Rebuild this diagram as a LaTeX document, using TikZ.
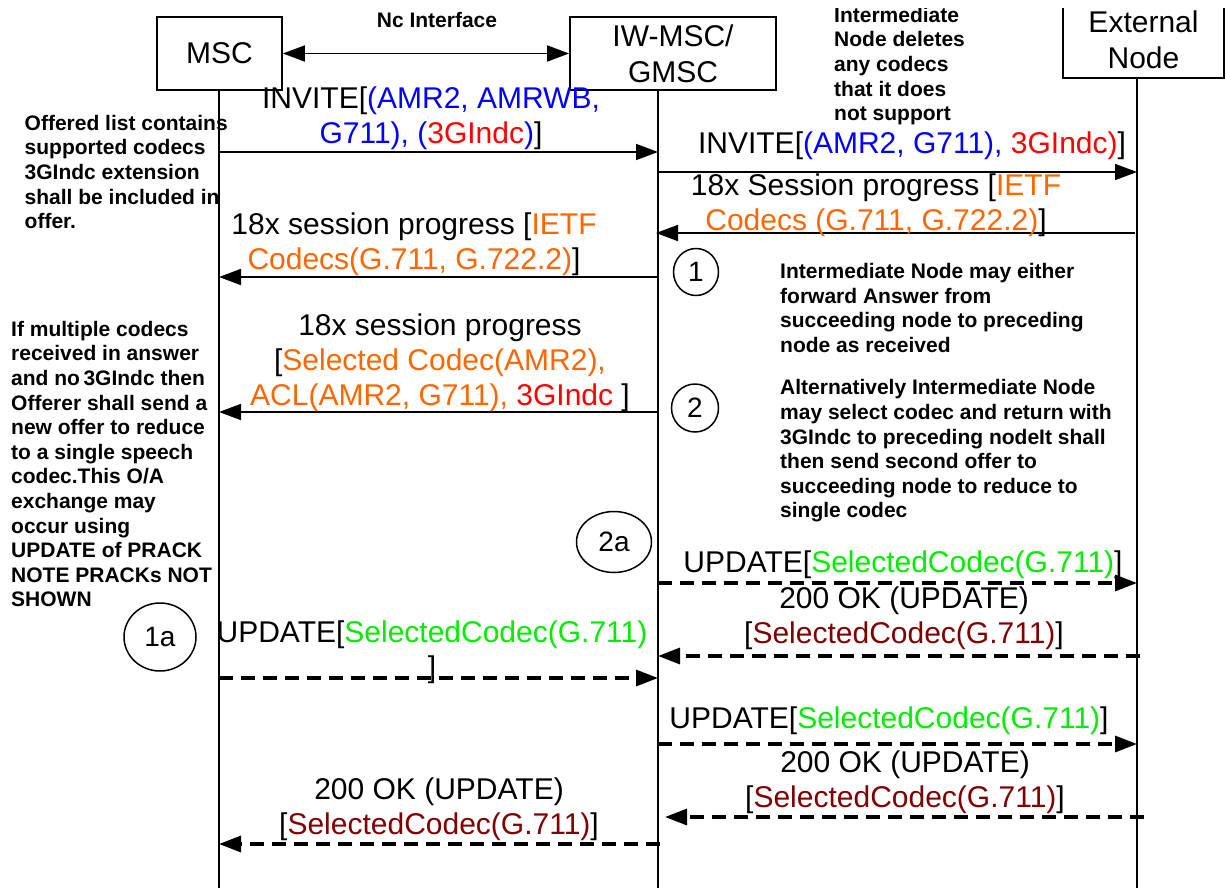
\documentclass[tikz,border=0pt]{standalone}
\usepackage{fontspec}
\setmainfont{Liberation Sans}
\usepackage{xcolor}
\usetikzlibrary{arrows.meta, shapes.geometric}
\definecolor{offerblue}{RGB}{0,0,255}
\definecolor{indcred}{RGB}{255,0,0}
\definecolor{ietforange}{RGB}{255,102,0}
\definecolor{selgreen}{RGB}{0,236,0}
\definecolor{okred}{RGB}{128,0,0}

\begin{document}
\begin{tikzpicture}[x=1pt, y=-1pt,
		entity/.style={draw, line width=1.8pt, inner sep=0pt, align=center, font=\fontsize{30}{36}\selectfont},
		life/.style={line width=1.7pt},
		msg/.style={inner sep=0pt, align=center, font=\fontsize{30}{35}\selectfont},
		note/.style={inner sep=0pt, align=left, anchor=west, font=\bfseries\fontsize{21}{24.6}\selectfont},
		num/.style={draw, ellipse, line width=1.5pt, inner sep=0pt, font=\fontsize{28}{30}\selectfont},
		solidmsg/.style={line width=1.8pt, -{Triangle[length=22pt,width=16pt]}},
		dashmsg/.style={line width=3.2pt, dash pattern=on 14pt off 8pt, -{Triangle[length=22pt,width=16pt]}}]
			\def\xm{219}
			\def\xi{658}
			\def\xe{1137}

			\useasboundingbox (0,0) rectangle (1225,888);
			\clip (0,9) rectangle (1225,888);

			% entities
			\node[entity, minimum width=125pt, minimum height=73pt] (msc) at (219.5,53.5) {MSC};
			\node[entity, minimum width=206pt, minimum height=73pt] (iw) at (673,53.5) {IW-MSC/\\GMSC};
			\node[entity, minimum width=161pt, minimum height=76pt] (ext) at (1143.5,40) {External\\Node};

			% lifelines
			\coordinate (mscend) at (\xm,888);
			\coordinate (iwend) at (\xi,888);
			\coordinate (extend) at (\xe,888);
			\draw[life] (msc.south -| mscend) -- (mscend);
			\draw[life] (iw.south -| iwend) -- (iwend);
			\draw[life] (ext.south -| extend) -- (extend);

			% Nc interface
			\draw[line width=1.8pt, {Triangle[length=22pt,width=16pt]}-{Triangle[length=22pt,width=16pt]}] (msc.east) -- (iw.west);
			\node[font=\bfseries\fontsize{21}{24}\selectfont, inner sep=0pt] (nc) at (437,20) {Nc Interface};

			% end points of the messages
			\foreach \n/\y in {inv/152, sp/277, sel/412, upd/678, ok/844}
				\coordinate (m-\n) at (\xm,\y);
			\foreach \n/\y in {inva/152, invb/172, spa/233, spb/277, sel/412, upda/583, oka/656, updb/678, updc/744, okb/817, okc/844}
				\coordinate (i-\n) at (\xi,\y);
			\foreach \n/\y in {inv/172, sp/233, upd/583, oka/656, updb/744, okb/817}
				\coordinate (e-\n) at (\xe,\y);

			% messages
			\draw[solidmsg] (m-inv) -- (i-inva);
			\draw[solidmsg] (i-invb) -- (e-inv);
			\draw[solidmsg, shorten <=2pt, shorten >=-2pt] (e-sp) -- (i-spa);
			\draw[solidmsg] (i-spb) -- (m-sp);
			\draw[solidmsg] (i-sel) -- (m-sel);
			\draw[dashmsg] (i-upda) -- (e-upd);
			\draw[dashmsg, shorten <=-3pt] (e-oka) -- (i-oka);
			\draw[dashmsg] (m-upd) -- (i-updb);
			\draw[dashmsg] (i-updc) -- (e-updb);
			\draw[dashmsg, shorten <=-7pt, shorten >=7pt] (e-okb) -- (i-okb);
			\draw[dashmsg, shorten <=-2pt] (i-okc) -- (m-ok);

			% message labels
			\node[msg] (invlbl) at (431,118) {INVITE[\textcolor{offerblue}{(AMR2, AMRWB,}\\\textcolor{offerblue}{G711), (}\textcolor{indcred}{3GIndc}\textcolor{offerblue}{)}]};
			\node[msg] (invext) at (912,146) {INVITE[\textcolor{offerblue}{(AMR2, G711), }\textcolor{indcred}{3GIndc)}]};
			\node[msg] (spext) at (876,205) {18x Session progress [\textcolor{ietforange}{IETF}\\\textcolor{ietforange}{Codecs (G.711, G.722.2)}]};
			\node[msg] (spmsc) at (414,244) {18x session progress [\textcolor{ietforange}{IETF}\\\textcolor{ietforange}{Codecs(G.711, G.722.2)}]};
			\node[msg] (sellbl) at (440,363) {18x session progress\\{[}\textcolor{ietforange}{Selected Codec(AMR2),}\\\textcolor{ietforange}{ACL(AMR2, G711), }\textcolor{indcred}{3GIndc} ]};
			\node[msg] (updext) at (903,565) {UPDATE[\textcolor{selgreen}{SelectedCodec(G.711)}]};
			\node[msg] (okext) at (904,618) {200 OK (UPDATE)\\{[}\textcolor{okred}{SelectedCodec(G.711)}]};
			\node[msg] (updmsc) at (432,652) {UPDATE[\textcolor{selgreen}{SelectedCodec(G.711)}\\]};
			\node[msg] (updext2) at (889,721) {UPDATE[\textcolor{selgreen}{SelectedCodec(G.711)}]};
			\node[msg] (okext2) at (905,782) {200 OK (UPDATE)\\{[}\textcolor{okred}{SelectedCodec(G.711)}]};
			\node[msg] (okmsc) at (439,809) {200 OK (UPDATE)\\{[}\textcolor{okred}{SelectedCodec(G.711)}]};

			% step markers
			\node[num, minimum width=45pt, minimum height=47pt] (one) at (696,272) {1};
			\node[num, minimum width=47pt, minimum height=48pt] (two) at (695,408) {2};
			\node[num, minimum width=75pt, minimum height=61pt] (twoa) at (614,542) {2a};
			\node[num, minimum width=72pt, minimum height=68pt] (onea) at (160,637) {1a};

			% notes
			\node[note] (delnote) at (834,66) {Intermediate\\Node deletes\\any codecs\\that it does\\not support};
			\node[note] (offnote) at (24.5,172) {Offered list contains\\supported codecs\\3GIndc extension\\shall be included in\\offer.};
			\node[note] (fwdnote) at (780,308) {Intermediate Node may either\\forward Answer from\\succeeding node to preceding\\node as received};
			\node[note] (altnote) at (780,451) {Alternatively Intermediate Node\\may select codec and return with\\3GIndc to preceding nodeIt shall\\then send second offer to\\succeeding node to reduce to\\single codec};
			\node[note] (multnote) at (11,464) {If multiple codecs\\received in answer\\and no\,3GIndc then\\Offerer shall send a\\new offer to reduce\\to a single speech\\codec.This O/A\\exchange may\\occur using\\UPDATE of PRACK\\NOTE PRACKs NOT\\SHOWN};

		\end{tikzpicture}
\end{document}
